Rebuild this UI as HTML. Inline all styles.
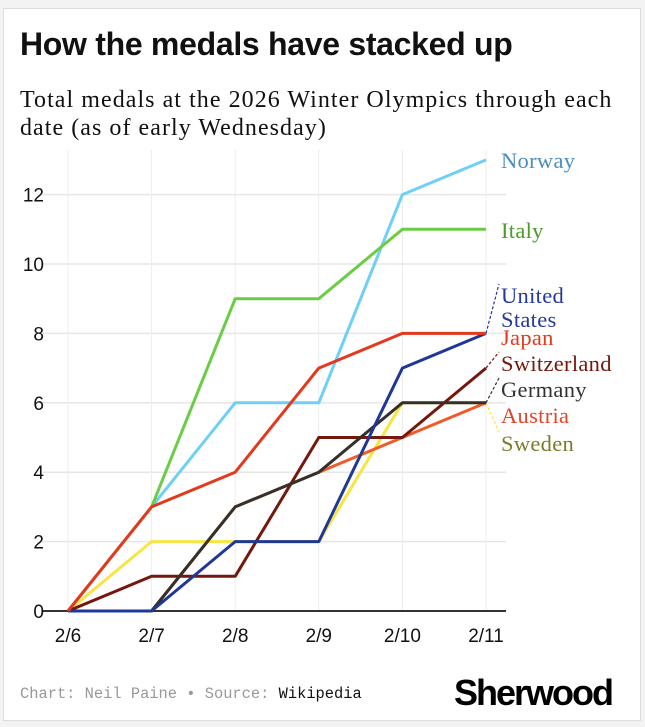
<!DOCTYPE html>
<html><head><meta charset="utf-8"><style>
body{margin:0;background:#f3f3f3;width:645px;height:727px;overflow:hidden;font-family:"Liberation Sans",sans-serif}
#card{position:absolute;left:3px;top:8px;width:636px;height:711px;background:#fff;border:1px solid #ddd}
h1{position:absolute;left:16px;top:17px;margin:0;font-size:32px;font-weight:bold;color:#111;letter-spacing:-0.3px}
#sub{position:absolute;left:16px;top:77px;width:630px;white-space:nowrap;font-family:"Liberation Serif",serif;font-size:24px;letter-spacing:1.05px;line-height:28px;color:#111}
#credit{position:absolute;left:16px;top:676px;font-family:"Liberation Mono",monospace;font-size:15.4px;color:#999}
#credit span{color:#111}
#logo{position:absolute;left:450px;top:663px;font-size:36px;font-weight:bold;letter-spacing:-2px;color:#000}
svg{position:absolute;left:0;top:0}
</style></head><body>
<div id="card">
<h1>How the medals have stacked up</h1>
<div id="sub">Total medals at the 2026 Winter Olympics through each<br>date (as of early Wednesday)</div>
<div id="credit">Chart: Neil Paine • Source: <span>Wikipedia</span></div>
<div id="logo">Sherwood</div>
</div>
<svg id="chart" width="645" height="727"></svg>
<script>
const dates=["2/6","2/7","2/8","2/9","2/10","2/11"];
const yTicks=[0,2,4,6,8,10,12];
const names=["Norway","Italy","Sweden","Austria","Switzerland","Germany","United States","Japan"];
const norway=[0,3,6,6,12,13];
const italy=[0,3,9,9,11,11];
const sweden=[0,2,2,2,6,6];
const austria=[0,0,3,4,5,6];
const switzerland=[0,1,1,5,5,7];
const germany=[0,0,3,4,6,6];
const usa=[0,0,2,2,7,8];
const japan=[0,3,4,7,8,8];
const series=[norway,italy,sweden,austria,switzerland,germany,usa,japan];
const lineColors=["#6fd0f7","#6acd45","#f7e545","#f15a2b","#74170c","#35302a","#1f3796","#e2391f"];
const labelColors=["#4a8ec0","#4b9a2b","#7d7a2a","#e2452a","#74170c","#333","#26399a","#e2391f"];
const labelY=[161,231,444,416,364,390,296,338];
const NS="http://www.w3.org/2000/svg";
const svg=document.getElementById("chart");
const x=i=>68+i*83.6;
const y=v=>611-v*34.7;
function mk(t,a){const e=document.createElementNS(NS,t);for(const k in a)e.setAttribute(k,a[k]);svg.appendChild(e);return e;}
yTicks.forEach(v=>{
 const g=mk("line",{x1:42,x2:506,y1:y(v),y2:y(v),stroke:v===0?"#333":"#e6e6e6","stroke-width":v===0?2:1.5});
 
 
 const t=mk("text",{x:44,y:y(v)+7,"text-anchor":"end","font-size":19,"font-family":"Liberation Sans",fill:"#111"});
 t.textContent=v;
 
 
});
dates.forEach((d,i)=>{
 const g=mk("line",{x1:x(i),x2:x(i),y1:150,y2:610,stroke:"#ececec","stroke-width":1});
 
 
 const t=mk("text",{x:x(i),y:642,"text-anchor":"middle","font-size":19,"font-family":"Liberation Sans",fill:"#111"});
 t.textContent=d;
 
 
});
series.forEach((s,k)=>{
 const p=mk("polyline",{points:s.map((v,i)=>x(i)+","+y(v)).join(" "),fill:"none",stroke:lineColors[k],"stroke-width":3,"stroke-linejoin":"round"});
 
 
 const ex=x(5),ey=y(s[5]);
 const ly=labelY[k];
 if(Math.abs(ly-6-ey)>8){
  const c=mk("line",{x1:ex,y1:ey,x2:499,y2:ly-12,stroke:lineColors[k],"stroke-width":1.2,"stroke-dasharray":"3,2"});
  
  
 }
 const t=mk("text",{x:501,y:ly+7,"font-size":22.5,"letter-spacing":0.3,"font-family":"Liberation Serif",fill:labelColors[k]});
 if(names[k]==="United States"){
  t.innerHTML='<tspan x="501">United</tspan><tspan x="501" dy="24">States</tspan>';
  t.setAttribute("y",ly+7);
 } else t.textContent=names[k];
 
 
});
</script>
</body></html>
